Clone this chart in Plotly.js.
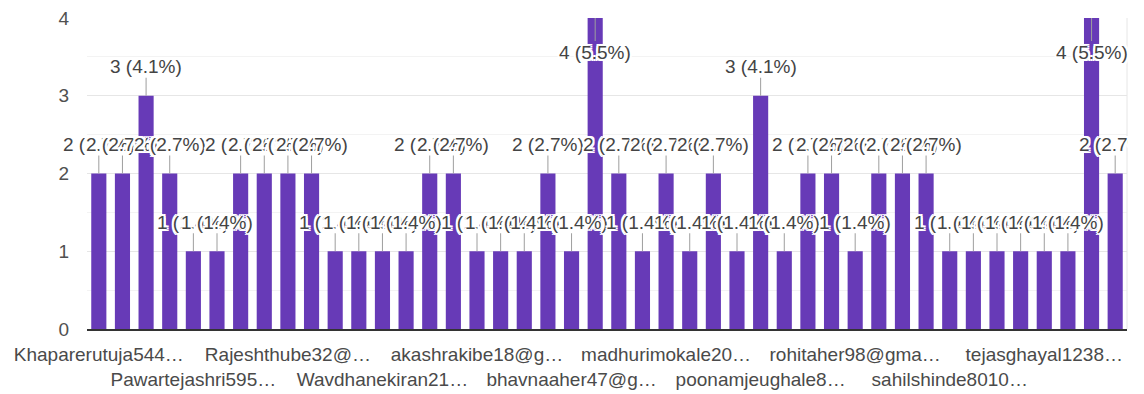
<!DOCTYPE html>
<html>
<head>
<meta charset="utf-8">
<script src="https://cdn.plot.ly/plotly-3.0.1.min.js"></script>
<style>
html,body{margin:0;padding:0;background:#fff;}
#wrap{position:relative;width:1144px;height:394px;}
#chart{width:1144px;height:394px;}
#edge{position:absolute;left:1128px;top:0;width:16px;height:328px;background:#fff;}
</style>
</head>
<body>
<div id="wrap"><div id="chart"></div><div id="edge"></div></div>
<script>
// Response counts for each of the 44 answers, in order
const counts = [2,2,3,2,1,1,2,2,2,2, 1,1,1,1,2,2,1,1,1,2, 1,4,2,1,2,1,2,1,3,1, 2,2,1,2,2,2,1,1,1,1, 1,1,4,2];
// Visible (truncated) category labels, shown on every 4th bar
const tickLabels = [
  "Khaparerutuja544…", "Pawartejashri595…", "Rajeshthube32@…", "Wavdhanekiran21…",
  "akashrakibe18@g…", "bhavnaaher47@g…", "madhurimokale20…", "poonamjeughale8…",
  "rohitaher98@gma…", "sahilshinde8010…", "tejasghayal1238…"
];
const tickEvery = 4;
const yTicks = [0, 1, 2, 3, 4];

const total = counts.reduce((a, b) => a + b, 0);
const xs = counts.map((_, i) => i);
const yMax = yTicks[yTicks.length - 1];

const tickvals = tickLabels.map((_, k) => k * tickEvery);
const ticktext = tickLabels.map((t, k) => (k % 2 === 1 ? "<br>" : "") + t);

const FONT = "Liberation Sans, Arial, sans-serif";
const halo = "2px 0 0 #fff, -2px 0 0 #fff, 0 2px 0 #fff, 0 -2px 0 #fff, 2px 2px 0 #fff, -2px -2px 0 #fff, 2px -2px 0 #fff, -2px 2px 0 #fff, 0 0 3px #fff";

const annotations = counts.map((v, i) => {
  const atTop = v >= yMax;
  return {
    x: i, y: v, xref: "x", yref: "y",
    text: v + " (" + (100 * v / total).toFixed(1) + "%)",
    showarrow: true, arrowhead: 0, arrowwidth: 1, arrowcolor: "#9e9e9e",
    ax: 0, ay: atTop ? 34 : -29,
    standoff: 0, borderpad: 0,
    font: {family: FONT, size: 19, color: "#444444", shadow: halo}
  };
});

const trace = {
  type: "bar",
  x: xs,
  y: counts,
  marker: {color: "#673ab7"},
  hoverinfo: "skip"
};

const layout = {
  width: 1144, height: 394,
  margin: {l: 87, r: 17, t: 18, b: 65},
  paper_bgcolor: "#fff", plot_bgcolor: "#fff",
  bargap: 0.36,
  showlegend: false,
  font: {family: FONT, size: 19, color: "#505050"},
  xaxis: {
    range: [-0.5, counts.length - 0.5],
    tickmode: "array", tickvals: tickvals, ticktext: ticktext,
    tickangle: 0, showgrid: false, zeroline: false,
    showline: true, linecolor: "#333333", linewidth: 2,
    ticks: "", ticklabelstandoff: 7,
    tickfont: {family: FONT, size: 19, color: "#4a4a4a"},
    fixedrange: true
  },
  yaxis: {
    range: [0, yMax],
    tickmode: "array", tickvals: yTicks, ticktext: yTicks.map(String),
    showgrid: true, gridcolor: "#e6e6e6", gridwidth: 1,
    minor: {dtick: 0.5, showgrid: true, gridcolor: "#f3f3f3", gridwidth: 1},
    zeroline: false, showline: false, ticks: "",
    ticklabelstandoff: 17,
    tickfont: {family: FONT, size: 19, color: "#505050"},
    fixedrange: true
  },
  shapes: [
    {type: "line", xref: "paper", yref: "paper", x0: 1, x1: 1, y0: 0, y1: 1,
     line: {color: "#e6e6e6", width: 1}}
  ],
  annotations: annotations
};

Plotly.newPlot("chart", [trace], layout, {displayModeBar: false, staticPlot: true});
</script>
</body>
</html>
